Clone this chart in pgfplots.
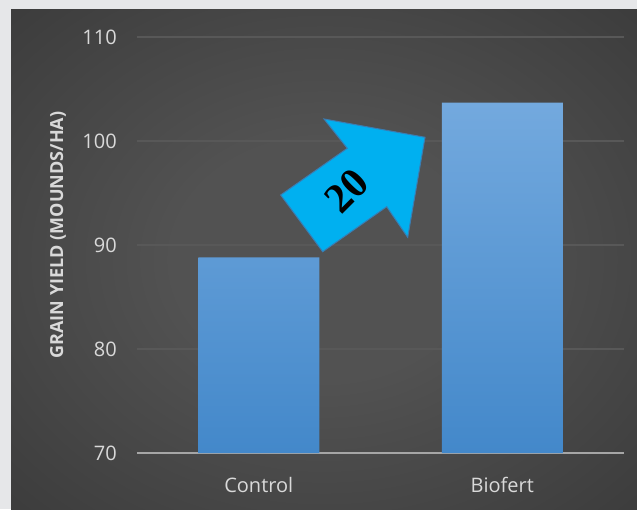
\documentclass[border=0pt]{standalone}
\usepackage{pgfplots}
\pgfplotsset{compat=1.18}
\usepackage{fontspec}
\setmainfont{Open Sans}
\newfontfamily\tnr{Liberation Serif}
\definecolor{lightbg}{HTML}{E6E7E9}
\definecolor{bgc}{HTML}{525252}
\definecolor{bgm}{HTML}{2F2F2F}
\definecolor{bgo}{HTML}{232323}
\definecolor{tickc}{HTML}{D9D9D9}
\definecolor{gridc}{HTML}{585858}
\definecolor{axisc}{HTML}{A6A6A6}
\definecolor{bartop}{HTML}{73A9DE}
\definecolor{barbot}{HTML}{4388CA}
\definecolor{arrowfill}{HTML}{00B0F0}
\definecolor{arrowedge}{HTML}{3A7DB3}
\pgfdeclareradialshading{bgshade}{\pgfpoint{0bp}{0bp}}{color(0bp)=(bgc); color(12bp)=(bgc); color(50bp)=(bgm); color(72bp)=(bgo)}
\begin{document}
\begin{tikzpicture}[x=1pt,y=1pt]
\fill[lightbg] (0,0) rectangle (637,509);
\shade[shading=bgshade] (11,0) rectangle (637,499);
\begin{axis}[
  at={(137pt,56pt)}, anchor=south west,
  scale only axis, width=487pt, height=416pt,
  xmin=-0.5, xmax=1.5, ymin=0, ymax=40,
  y filter/.expression={y-70},
  ytick={0,10,20,30,40}, yticklabels={70,80,90,100,110},
  xtick={0,1}, xticklabels={Control,Biofert},
  major tick length=0pt,
  axis x line*=bottom, axis y line*=left,
  axis line style={-},
  y axis line style={draw=none},
  x axis line style={draw=axisc, line width=2pt},
  ymajorgrids, grid style={draw=gridc, line width=1.6pt},
  /pgf/number format/assume math mode=true,
  ticklabel style={font=\fontsize{20}{24}\selectfont, text=tickc, inner sep=0pt},
  yticklabel style={anchor=east, xshift=-20pt},
  xticklabel style={anchor=base, yshift=-39pt},
  ylabel={GRAIN YIELD (MOUNDS/HA)},
  ylabel style={at={(axis description cs:-0.162,0.524)}, anchor=center, font=\bfseries\fontsize{18}{21}\selectfont, text=tickc, inner sep=0pt},
]
\addplot[ybar, bar width=121pt, draw=none, top color=bartop, bottom color=barbot] coordinates {(0,88.8) (1,103.7)};
\end{axis}
\draw[draw=arrowedge, fill=arrowfill, line width=1pt, line join=miter] (280.7,314) -- (347.3,360.7) -- (324,390) -- (425,371.7) -- (407.7,271.7) -- (386.7,302.3) -- (322.7,257.3) -- cycle;
\node[rotate=45, font=\tnr\bfseries\fontsize{42}{42}\selectfont, text=black, inner sep=0pt] at (347,318) {20};
\end{tikzpicture}
\end{document}
